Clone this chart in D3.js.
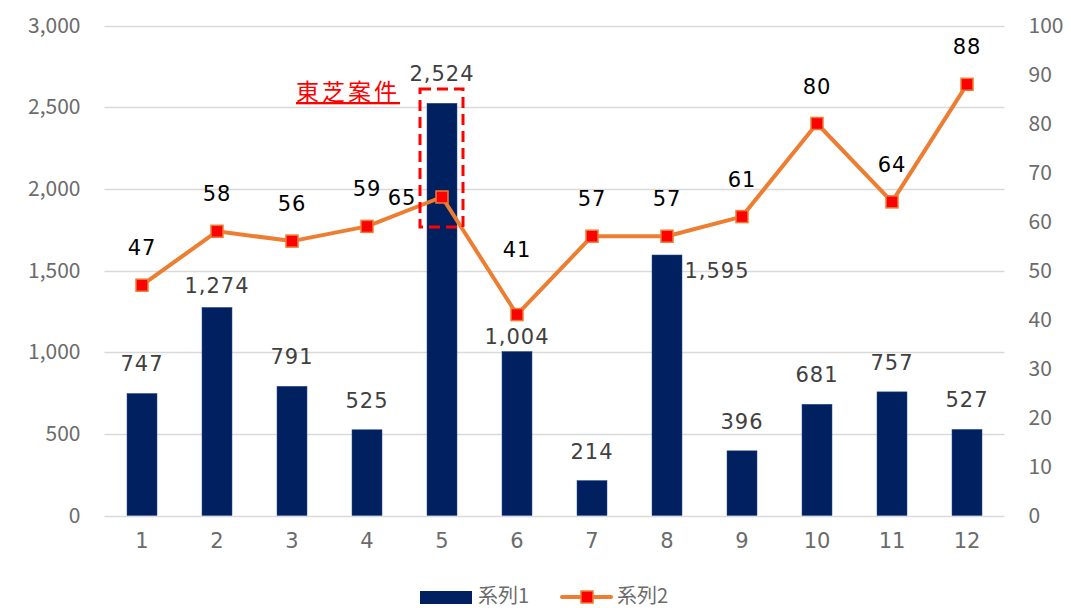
<!DOCTYPE html>
<html><head><meta charset="utf-8">
<script src="https://cdn.jsdelivr.net/npm/d3@7"></script>
<style>
body{margin:0;background:#fff;}
svg{display:block;}
</style></head>
<body>
<svg id="c" width="1071" height="608"></svg>
<script>
const categories = ["1","2","3","4","5","6","7","8","9","10","11","12"];
const series1 = [747,1274,791,525,2524,1004,214,1595,396,681,757,527];
const series2 = [47,58,56,59,65,41,57,57,61,80,64,88];
const leftTicks = [0,500,1000,1500,2000,2500,3000];
const rightTicks = [0,10,20,30,40,50,60,70,80,90,100];
const seriesNames = ["系列1","系列2"];
const annotation = "東芝案件";
const highlightIndex = 4;

const svg = d3.select("#c");
const L = 104.5, R = 1004.5, T = 25.5, B = 515.5;
const x = d3.scaleBand().domain(categories).range([L,R]).paddingInner(0.6).paddingOuter(0.3);
const xc = d => x(d) + x.bandwidth()/2;
const y1 = d3.scaleLinear().domain([0,3000]).range([B,T]);
const y2 = d3.scaleLinear().domain([0,100]).range([B,T]);

const axisColor = "#6b6b6b";
const numFont = "'DejaVu Sans', sans-serif";
const tickFont = "'Noto Sans CJK JP', 'Noto Sans', sans-serif";

// gridlines
svg.append("g").selectAll("line").data(leftTicks).join("line")
  .attr("x1",L).attr("x2",R).attr("y1",d=>Math.round(y1(d))+0.5).attr("y2",d=>Math.round(y1(d))+0.5)
  .attr("stroke","#d9d9d9").attr("stroke-width",1.5);

// left axis
const ga = svg.append("g").attr("transform",`translate(${L},0)`)
  .call(d3.axisLeft(y1).tickValues(leftTicks).tickFormat(d3.format(",")).tickSize(0).tickPadding(24));
ga.select(".domain").remove();
ga.selectAll("text").attr("fill",axisColor).style("font-family",tickFont).style("font-size","21px");

// right axis
const gr = svg.append("g").attr("transform",`translate(${R},0)`)
  .call(d3.axisRight(y2).tickValues(rightTicks).tickSize(0).tickPadding(24));
gr.select(".domain").remove();
gr.selectAll("text").attr("fill",axisColor).style("font-family",tickFont).style("font-size","21px");

// bottom axis
const gb = svg.append("g").attr("transform",`translate(0,${B})`)
  .call(d3.axisBottom(x).tickSize(0).tickPadding(18));
gb.select(".domain").remove();
gb.selectAll("text").attr("fill",axisColor).style("font-family",numFont).style("font-size","21px");

// bars
svg.append("g").selectAll("rect").data(series1).join("rect")
  .attr("x",(d,i)=>x(categories[i])).attr("width",x.bandwidth())
  .attr("y",d=>y1(d)).attr("height",d=>B-y1(d))
  .attr("fill","#002060").attr("stroke","#2f4f8f").attr("stroke-width",0.5);

// line
const line = d3.line().x((d,i)=>xc(categories[i])).y(d=>y2(d));
svg.append("path").datum(series2).attr("d",line)
  .attr("fill","none").attr("stroke","#ED7D31").attr("stroke-width",4).attr("stroke-linejoin","round");
svg.append("g").selectAll("rect").data(series2).join("rect")
  .attr("x",(d,i)=>xc(categories[i])-6).attr("y",d=>y2(d)-6)
  .attr("width",12).attr("height",12)
  .attr("fill","#FF0000").attr("stroke","#ED7D31").attr("stroke-width",1.5);

// bar labels
const fmt = d3.format(",");
const barLabelAdj = {1:{dy:8},5:{dy:14},7:{dx:50,dy:45}};
svg.append("g").selectAll("text").data(series1).join("text")
  .attr("x",(d,i)=>xc(categories[i]) + ((barLabelAdj[i]||{}).dx||0))
  .attr("y",(d,i)=>y1(d) - 22 + ((barLabelAdj[i]||{}).dy||0))
  .attr("text-anchor","middle")
  .attr("fill","#404040").style("font-family",numFont).style("font-size","21px")
  .style("letter-spacing","1px")
  .text(d=>fmt(d));

// line labels
const lineLabelAdj = {4:{dx:-40,dy:38},5:{dy:-28}};
svg.append("g").selectAll("text").data(series2).join("text")
  .attr("x",(d,i)=>xc(categories[i]) + ((lineLabelAdj[i]||{}).dx||0))
  .attr("y",(d,i)=>y2(d) - 30 + ((lineLabelAdj[i]||{}).dy||0))
  .attr("text-anchor","middle")
  .attr("fill","#000").style("font-family",numFont).style("font-size","21px")
  .style("letter-spacing","1px")
  .text(d=>d);

// annotation
const hx = xc(categories[highlightIndex]);
svg.append("rect").attr("x",hx-22).attr("y",89).attr("width",43).attr("height",138)
  .attr("fill","none").attr("stroke","#FF0000").attr("stroke-width",3).attr("stroke-dasharray","11,6");
svg.append("text").attr("x",hx-42).attr("y",100).attr("text-anchor","end")
  .attr("fill","#FF0000").style("font-family","'Noto Sans CJK JP', sans-serif").style("font-size","23px")
  .style("letter-spacing","3px").style("text-decoration","underline")
  .text(annotation);

// legend
const lg = svg.append("g");
lg.append("rect").attr("x",420).attr("y",591).attr("width",52).attr("height",13).attr("fill","#002060");
lg.append("text").attr("x",478).attr("y",603).attr("fill",axisColor)
  .style("font-family",tickFont).style("font-size","20px").text(seriesNames[0]);
lg.append("line").attr("x1",562).attr("x2",611).attr("y1",597).attr("y2",597)
  .attr("stroke","#ED7D31").attr("stroke-width",4).attr("stroke-linecap","round");
lg.append("rect").attr("x",581).attr("y",591).attr("width",12).attr("height",12)
  .attr("fill","#FF0000").attr("stroke","#ED7D31").attr("stroke-width",1.5);
lg.append("text").attr("x",617).attr("y",603).attr("fill",axisColor)
  .style("font-family",tickFont).style("font-size","20px").text(seriesNames[1]);
</script>
</body></html>
